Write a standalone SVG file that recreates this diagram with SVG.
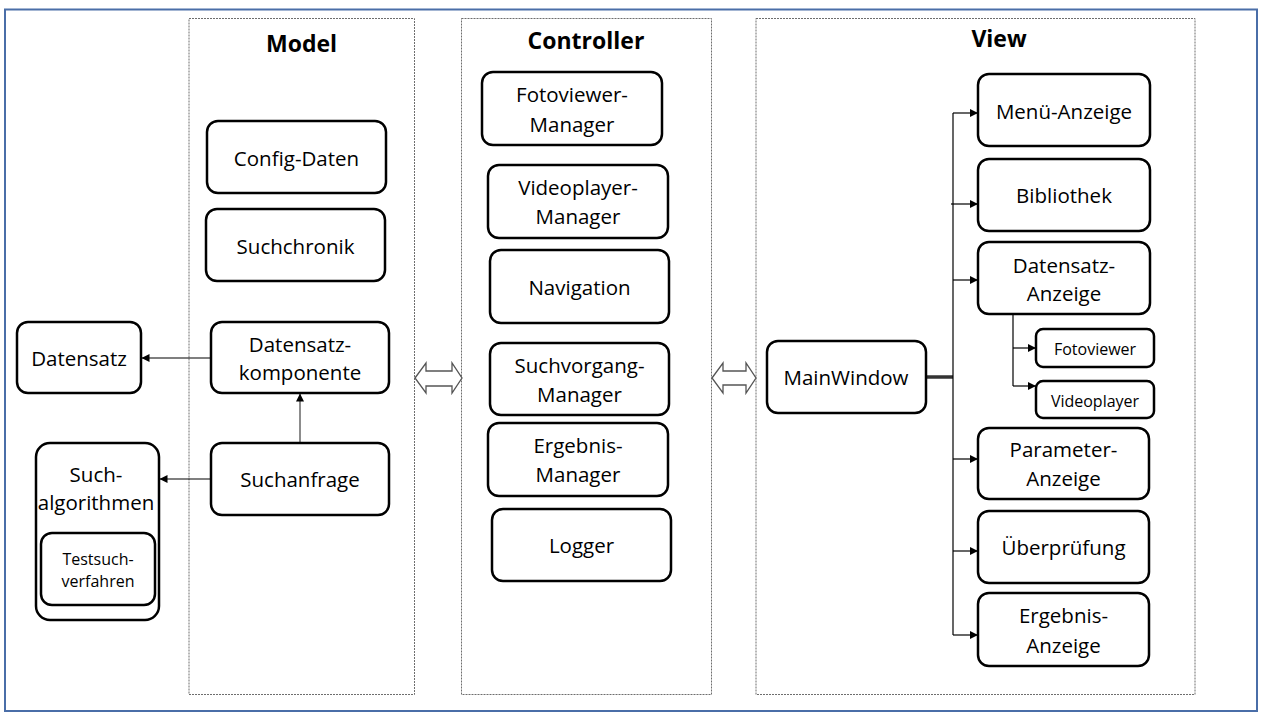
<svg xmlns="http://www.w3.org/2000/svg" width="1280" height="720" viewBox="0 0 1280 720">
<style>
.box{fill:#fff;stroke:#000;stroke-width:2.5}
.panel{fill:none;stroke:#6e6e6e;stroke-width:1;stroke-dasharray:2 1}
.t{font-family:"Open Sans","Liberation Sans",sans-serif;font-size:20.5px;fill:#000;text-anchor:middle}
.s{font-size:16px}
.title{font-family:"Open Sans","Liberation Sans",sans-serif;font-size:23px;font-weight:bold;fill:#000;text-anchor:middle}
.c{fill:none;stroke:#000;stroke-width:1.2}
.dbl{fill:#fff;stroke:#555;stroke-width:1.3}
</style>
<defs>
<marker id="ah" markerWidth="8" markerHeight="8" refX="8" refY="4" orient="auto" markerUnits="userSpaceOnUse">
<path d="M0,0 L8,4 L0,8 Z" fill="#000"/>
</marker>
</defs>
<rect width="1280" height="720" fill="#fff"/>
<rect x="5" y="9.5" width="1252" height="701.5" fill="none" stroke="#4a6ea8" stroke-width="2"/>

<g id="panels">
<rect class="panel" x="189" y="18.5" width="225.5" height="676"/>
<rect class="panel" x="461.5" y="18.5" width="250" height="676"/>
<rect class="panel" x="756" y="18.5" width="439" height="676"/>
<text class="title" x="301.5" y="52">Model</text>
<text class="title" x="586" y="49">Controller</text>
<text class="title" x="999" y="47">View</text>
</g>

<g id="connectors">
<line class="c" x1="211" y1="358" x2="141.5" y2="358" marker-end="url(#ah)"/>
<line class="c" x1="211" y1="479" x2="159.5" y2="479" marker-end="url(#ah)"/>
<line x1="300" y1="443" x2="300" y2="393.5" stroke="#666" stroke-width="1.5" marker-end="url(#ah)"/>
<line x1="926" y1="377" x2="953" y2="377" stroke="#333" stroke-width="3.5"/>
<line class="c" x1="953" y1="113" x2="953" y2="635"/>
<line class="c" x1="953" y1="113" x2="978" y2="113" marker-end="url(#ah)"/>
<line class="c" x1="951" y1="204" x2="978" y2="204" marker-end="url(#ah)"/>
<line class="c" x1="953" y1="280" x2="978" y2="280" marker-end="url(#ah)"/>
<line class="c" x1="953" y1="459" x2="978" y2="459" marker-end="url(#ah)"/>
<line class="c" x1="953" y1="551" x2="978" y2="551" marker-end="url(#ah)"/>
<line class="c" x1="953" y1="635" x2="978" y2="635" marker-end="url(#ah)"/>
<line class="c" x1="1013" y1="314" x2="1013" y2="386"/>
<line class="c" x1="1013" y1="348" x2="1036" y2="348" marker-end="url(#ah)"/>
<line class="c" x1="1013" y1="386" x2="1036" y2="386" marker-end="url(#ah)"/>
<path class="dbl" d="M415,378 L426,363 L426,371 L452,371 L452,363 L462,378 L452,393 L452,386 L426,386 L426,393 Z"/>
<path class="dbl" d="M712,378 L723,363 L723,371 L746,371 L746,363 L756,378 L746,393 L746,385 L723,385 L723,393 Z"/>
</g>

<g id="config-daten"><rect class="box" x="207" y="121" width="179" height="72" rx="11"/><text class="t" x="296.5" y="166">Config-Daten</text></g>
<g id="suchchronik"><rect class="box" x="206" y="209" width="179" height="72" rx="11"/><text class="t" x="295.5" y="254">Suchchronik</text></g>
<g id="datensatzkomponente"><rect class="box" x="211" y="322" width="178" height="71" rx="11"/><text class="t" x="300" y="352">Datensatz-</text><text class="t" x="300" y="380">komponente</text></g>
<g id="suchanfrage"><rect class="box" x="211" y="443" width="178" height="72" rx="11"/><text class="t" x="300" y="487">Suchanfrage</text></g>
<g id="datensatz"><rect class="box" x="17" y="322" width="124" height="71" rx="11"/><text class="t" x="79" y="366">Datensatz</text></g>
<g id="suchalgorithmen"><rect class="box" x="36" y="443" width="123" height="177" rx="14"/><text class="t" x="96" y="482">Such-</text><text class="t" x="96" y="510">algorithmen</text>
<g id="testsuchverfahren"><rect class="box" x="41" y="533" width="114" height="72" rx="11"/><text class="t s" x="98" y="565">Testsuch-</text><text class="t s" x="98" y="587">verfahren</text></g></g>

<g id="fotoviewer-manager"><rect class="box" x="482" y="72" width="180" height="73" rx="11"/><text class="t" x="572" y="102">Fotoviewer-</text><text class="t" x="572" y="132">Manager</text></g>
<g id="videoplayer-manager"><rect class="box" x="488" y="165" width="180" height="73" rx="11"/><text class="t" x="578" y="195">Videoplayer-</text><text class="t" x="578" y="224">Manager</text></g>
<g id="navigation"><rect class="box" x="490" y="250" width="179" height="73" rx="11"/><text class="t" x="579.5" y="295">Navigation</text></g>
<g id="suchvorgang-manager"><rect class="box" x="490" y="343" width="179" height="72" rx="11"/><text class="t" x="579.5" y="373">Suchvorgang-</text><text class="t" x="579.5" y="402">Manager</text></g>
<g id="ergebnis-manager"><rect class="box" x="488" y="423" width="180" height="73" rx="11"/><text class="t" x="578" y="453">Ergebnis-</text><text class="t" x="578" y="482">Manager</text></g>
<g id="logger"><rect class="box" x="492" y="509" width="179" height="72" rx="11"/><text class="t" x="581.5" y="553">Logger</text></g>

<g id="mainwindow"><rect class="box" x="767" y="341" width="159" height="72" rx="11"/><text class="t" x="846" y="385">MainWindow</text></g>
<g id="menue-anzeige"><rect class="box" x="978" y="74" width="172" height="72" rx="11"/><text class="t" x="1064" y="119">Menü-Anzeige</text></g>
<g id="bibliothek"><rect class="box" x="978" y="159" width="172" height="72" rx="11"/><text class="t" x="1064" y="203">Bibliothek</text></g>
<g id="datensatz-anzeige"><rect class="box" x="978" y="242" width="172" height="72" rx="11"/><text class="t" x="1064" y="273">Datensatz-</text><text class="t" x="1064" y="301">Anzeige</text></g>
<g id="fotoviewer"><rect class="box" x="1036" y="329" width="118" height="38" rx="7"/><text class="t s" x="1095" y="355">Fotoviewer</text></g>
<g id="videoplayer"><rect class="box" x="1036" y="381" width="118" height="37" rx="7"/><text class="t s" x="1095" y="407">Videoplayer</text></g>
<g id="parameter-anzeige"><rect class="box" x="978" y="428" width="171" height="71" rx="11"/><text class="t" x="1063.5" y="457">Parameter-</text><text class="t" x="1063.5" y="486">Anzeige</text></g>
<g id="ueberpruefung"><rect class="box" x="978" y="511" width="171" height="72" rx="11"/><text class="t" x="1063.5" y="555">Überprüfung</text></g>
<g id="ergebnis-anzeige"><rect class="box" x="978" y="593" width="171" height="73" rx="11"/><text class="t" x="1063.5" y="623">Ergebnis-</text><text class="t" x="1063.5" y="653">Anzeige</text></g>
</svg>
